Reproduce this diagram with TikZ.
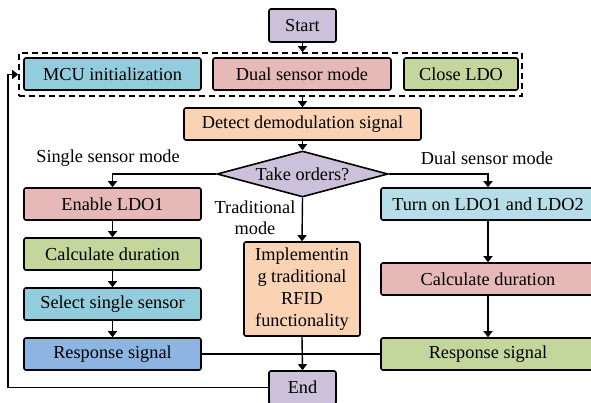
\documentclass[tikz,border=0pt]{standalone}
\usepackage{fontspec}
\setmainfont{Liberation Serif}
\usetikzlibrary{shapes.geometric,arrows.meta}
\definecolor{cpurple}{HTML}{CCC1DA}
\definecolor{ccyan}{HTML}{93CDDD}
\definecolor{clcyan}{HTML}{B7DEE8}
\definecolor{cpink}{HTML}{E6B9B8}
\definecolor{cgreen}{HTML}{C3D69B}
\definecolor{cpeach}{HTML}{FAD3B5}
\definecolor{cblue}{HTML}{8EB4E3}
\tikzset{
  box/.style={draw=black, line width=1.6pt, rounded corners=2pt, inner sep=0pt, minimum height=32pt, align=center},
  dia/.style={draw=black, line width=1.6pt, diamond, aspect=3.7, inner sep=0pt, minimum width=171pt, minimum height=46pt, fill=cpurple},
  grpbox/.style={draw=black, line width=1.6pt, dash pattern=on 6pt off 4pt, inner sep=0pt},
  conn/.style={line width=1.4pt},
  arr/.style={conn, -{Triangle[length=6pt,width=9pt]}},
  lbl/.style={inner sep=0pt, align=center},
}
\begin{document}
\begin{tikzpicture}[x=1pt,y=-1pt,font=\fontsize{18.3}{21.5}\selectfont]
\useasboundingbox (0,0) rectangle (591,402);
\clip (0,0) rectangle (591,402);
% top group
\node[box, fill=cpurple, minimum width=67pt, minimum height=33pt] (start) at (302.5,25.5) {Start};
\node[grpbox, minimum width=503pt, minimum height=43pt] (grp) at (270.5,74.5) {};
\node[box, fill=ccyan, minimum width=177pt] (mcu) at (112.5,74) {MCU initialization};
\node[box, fill=cpink, minimum width=178pt] (dual) at (302,74) {Dual sensor mode};
\node[box, fill=cgreen, minimum width=114pt] (close) at (461,74) {Close LDO};
\node[box, fill=cpeach, minimum width=237pt] (detect) at (302.5,124) {Detect demodulation signal};
\node[dia] (take) at (302.5,174) {Take orders?};
% left column
\node[box, fill=cpink, minimum width=177pt] (enable) at (112.5,204) {Enable LDO1};
\node[box, fill=cgreen, minimum width=177pt] (calcL) at (112.5,254) {Calculate duration};
\node[box, fill=ccyan, minimum width=177pt] (select) at (112.5,304) {Select single sensor};
\node[box, fill=cblue, minimum width=177pt] (respL) at (112.5,354) {Response signal};
% middle
\node[box, fill=cpeach, minimum width=116pt, minimum height=94pt, font=\fontsize{18.3}{22}\selectfont] (impl) at (302,289) {Implementin\\g traditional\\RFID\\functionality};
\node[box, fill=cpurple, minimum width=67pt, minimum height=33pt] (end) at (302.5,387.5) {End};
% right column
\node[box, fill=clcyan, minimum width=214pt] (turn) at (488,204) {Turn on LDO1 and LDO2};
\node[box, fill=cpink, minimum width=214pt] (calcR) at (488,279) {Calculate duration};
\node[box, fill=cgreen, minimum width=214pt] (respR) at (488,354) {Response signal};
% labels
\node[lbl] (lsingle) at (108,158) {Single sensor mode};
\node[lbl] (ldual) at (487,158) {Dual sensor mode};
\node[lbl, font=\fontsize{18.3}{21}\selectfont] (ltrad) at (255,217.5) {Traditional\\mode};
% connectors
\draw[arr] (start.south) -- (start.south |- grp.north);
\draw[arr] (detect.north |- grp.south) -- (detect.north);
\draw[arr] (detect) -- (take);
\draw[arr] (take.west) -| (enable.north);
\draw[arr] (take.east) -| (turn.north);
\draw[arr] (take.south) -- (impl.north);
\draw[arr] (enable) -- (calcL);
\draw[arr] (calcL) -- (select);
\draw[arr] (select) -- (respL);
\draw[arr] (turn) -- (calcR);
\draw[arr] (calcR) -- (respR);
\draw[arr] (impl.south) -- (end.north);
\coordinate (join) at (impl.south |- respL.east);
\draw[conn] (respL.east) -- (join);
\draw[conn] (respR.west) -- (join);
\coordinate (fb) at (8,387.5);
\draw[arr] (end.west) -- (fb) |- (grp.west);
\end{tikzpicture}
\end{document}
